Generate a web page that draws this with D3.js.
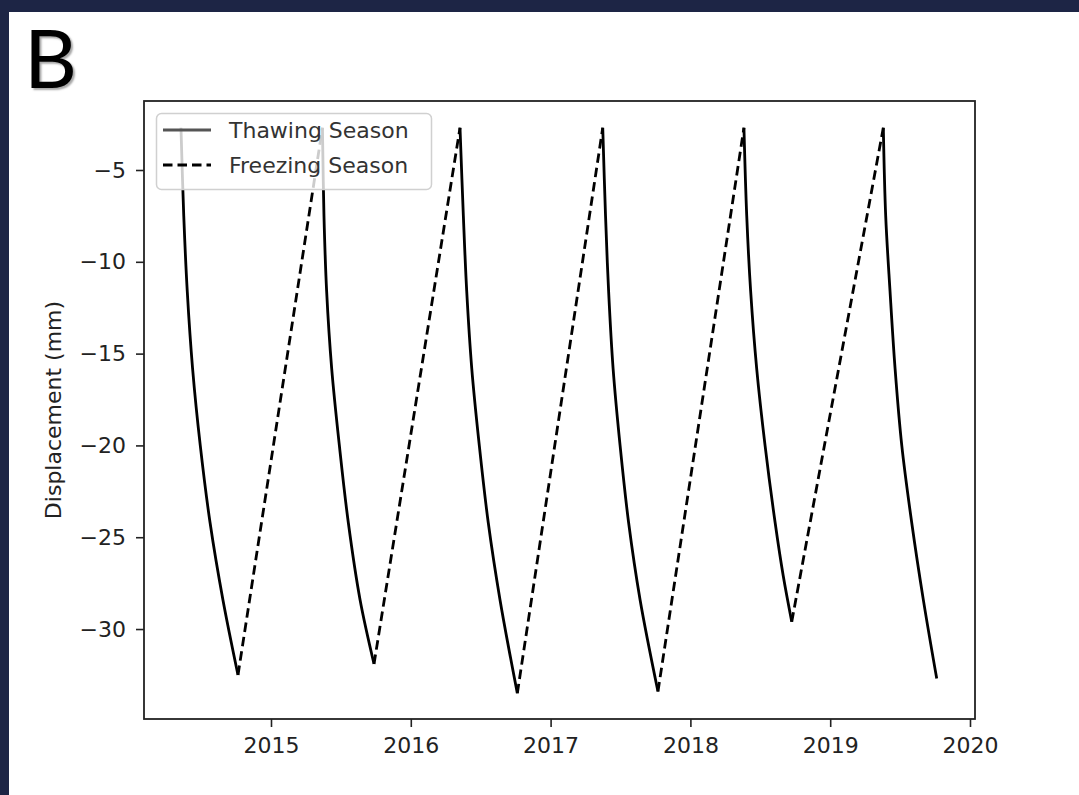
<!DOCTYPE html>
<html>
<head>
<meta charset="utf-8">
<script src="https://cdn.jsdelivr.net/npm/d3@7"></script>
<style>
  html, body { margin: 0; padding: 0; background: #1d2545; }
  svg { display: block; }
  .tick text { font-family: "DejaVu Sans", sans-serif; font-size: 22px; fill: #222; }
</style>
</head>
<body>
<svg id="chart" width="1079" height="795"></svg>
<script>
// thawing season curves (decimal year / displacement in mm)
var thawYears = [
    [2014.356, 2014.376, 2014.401, 2014.439, 2014.494, 2014.564, 2014.656, 2014.764],
    [2015.368, 2015.379, 2015.398, 2015.434, 2015.489, 2015.553, 2015.637, 2015.737],
    [2016.352, 2016.376, 2016.400, 2016.436, 2016.490, 2016.554, 2016.638, 2016.762],
    [2017.373, 2017.393, 2017.415, 2017.447, 2017.497, 2017.558, 2017.640, 2017.768],
    [2018.383, 2018.403, 2018.431, 2018.474, 2018.534, 2018.606, 2018.664, 2018.725],
    [2019.380, 2019.397, 2019.428, 2019.464, 2019.512, 2019.583, 2019.666, 2019.762]
];
var thawValues = [
    [-2.7, -7.5, -11.6, -15.8, -20.0, -24.2, -28.4, -32.5],
    [-2.7, -7.5, -11.6, -15.8, -20.0, -24.2, -28.4, -31.9],
    [-2.7, -7.5, -11.6, -15.8, -20.0, -24.2, -28.4, -33.5],
    [-2.7, -7.5, -11.6, -15.8, -20.0, -24.2, -28.4, -33.4],
    [-2.7, -7.5, -11.6, -15.8, -20.0, -24.2, -27.1, -29.6],
    [-2.7, -7.5, -11.6, -15.8, -20.0, -24.2, -28.4, -32.7]
];
var xTicks = [2015, 2016, 2017, 2018, 2019, 2020];
var yTicks = [-5, -10, -15, -20, -25, -30];
var legendLabels = ["Thawing Season", "Freezing Season"];

var svg = d3.select("#chart");

// white panel, navy frame shows on top and left
svg.append("rect")
    .attr("x", 9).attr("y", 12)
    .attr("width", 1070).attr("height", 783)
    .attr("fill", "#fff");

svg.append("text")
    .attr("x", 24).attr("y", 88)
    .attr("font-family", "Lato, 'Open Sans', sans-serif")
    .attr("font-size", 82)
    .attr("fill", "#000")
    .style("text-shadow", "2px 2px 2px rgba(0,0,0,0.35)")
    .text("B");

var plotLeft = 144, plotRight = 975, plotTop = 101, plotBottom = 719;

var x = d3.scaleLinear().domain([2014.0916, 2020.0358]).range([plotLeft, plotRight]);
var y = d3.scaleLinear().domain([-34.90, -1.242]).range([plotBottom, plotTop]);

var line = d3.line()
    .x(function (d) { return x(d[0]); })
    .y(function (d) { return y(d[1]); })
    .curve(d3.curveCatmullRom.alpha(0.5));

var thaw = thawYears.map(function (ys, i) {
    return ys.map(function (yr, j) { return [yr, thawValues[i][j]]; });
});

// freezing: straight from each trough to the next peak
var freeze = [];
for (var i = 0; i < thaw.length - 1; i++) {
    freeze.push([thaw[i][thaw[i].length - 1], thaw[i + 1][0]]);
}

var plot = svg.append("g");

plot.selectAll(".thaw")
    .data(thaw)
    .enter().append("path")
    .attr("class", "thaw")
    .attr("d", line)
    .attr("fill", "none")
    .attr("stroke", "#000")
    .attr("stroke-width", 2.8);

plot.selectAll(".freeze")
    .data(freeze)
    .enter().append("path")
    .attr("class", "freeze")
    .attr("d", d3.line().x(function (d) { return x(d[0]); }).y(function (d) { return y(d[1]); }))
    .attr("fill", "none")
    .attr("stroke", "#000")
    .attr("stroke-width", 2.8)
    .attr("stroke-dasharray", "9.5,5");

// axes
var xAxis = svg.append("g")
    .attr("transform", "translate(0," + plotBottom + ")")
    .call(d3.axisBottom(x).tickValues(xTicks).tickFormat(d3.format("d")).tickSize(8).tickPadding(10));
var yAxis = svg.append("g")
    .attr("transform", "translate(" + plotLeft + ",0)")
    .call(d3.axisLeft(y).tickValues(yTicks).tickFormat(function (d) { return "\u2212" + Math.abs(d); }).tickSize(8).tickPadding(10));

[xAxis, yAxis].forEach(function (a) {
    a.select(".domain").remove();
    a.selectAll(".tick line").attr("stroke", "#222").attr("stroke-width", 1.6);
    a.attr("font-family", null).attr("font-size", null);
});

svg.append("rect")
    .attr("x", plotLeft).attr("y", plotTop)
    .attr("width", plotRight - plotLeft).attr("height", plotBottom - plotTop)
    .attr("fill", "none")
    .attr("stroke", "#222")
    .attr("stroke-width", 1.8);

svg.append("text")
    .attr("transform", "translate(61," + ((plotTop + plotBottom) / 2) + ") rotate(-90)")
    .attr("text-anchor", "middle")
    .attr("font-family", "DejaVu Sans, sans-serif")
    .attr("font-size", 22)
    .attr("fill", "#222")
    .text("Displacement (mm)");

// legend
var legend = svg.append("g");
legend.append("rect")
    .attr("x", 156.5).attr("y", 113.5)
    .attr("width", 275).attr("height", 76)
    .attr("rx", 5)
    .attr("fill", "#fff")
    .attr("fill-opacity", 0.8)
    .attr("stroke", "#d0d0d0")
    .attr("stroke-width", 1.5);

legendLabels.forEach(function (label, i) {
    var ly = 130 + i * 35;
    legend.append("line")
        .attr("x1", 163).attr("x2", 211)
        .attr("y1", ly).attr("y2", ly)
        .attr("stroke", i == 0 ? "#555" : "#000")
        .attr("stroke-width", 2.8)
        .attr("stroke-dasharray", i == 0 ? null : "9.5,5");
    legend.append("text")
        .attr("x", 229).attr("y", ly)
        .attr("dy", "0.35em")
        .attr("font-family", "DejaVu Sans, sans-serif")
        .attr("font-size", 22)
        .attr("fill", "#333")
        .text(label);
});
</script>
</body>
</html>
